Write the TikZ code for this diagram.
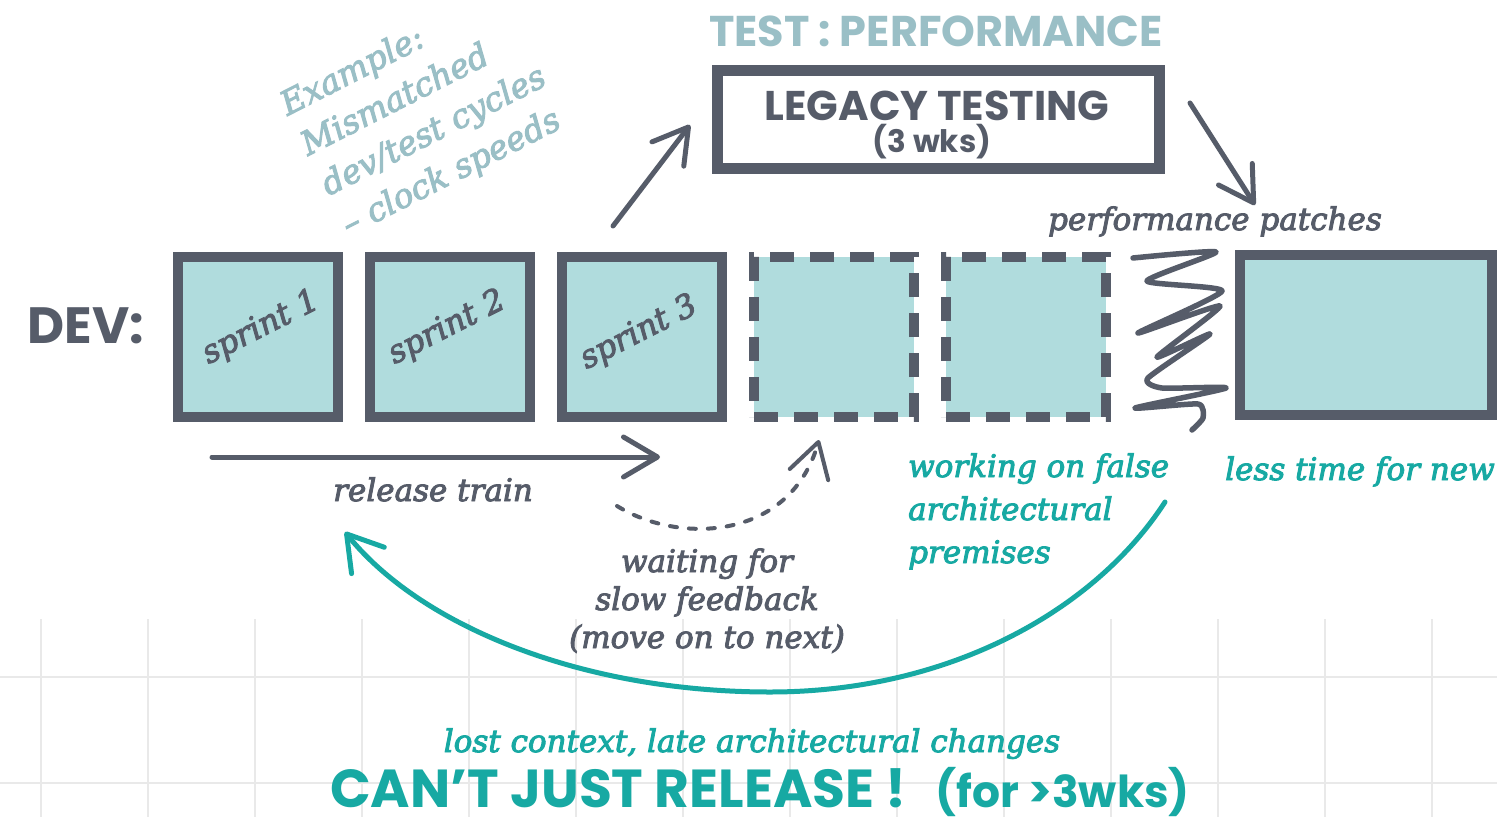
\documentclass[tikz,border=0pt]{standalone}
\usepackage{fontspec}
\setmainfont{DejaVu Serif}[ItalicFeatures={FakeBold=3}]
\setsansfont{Poppins}
\usetikzlibrary{arrows.meta}
\definecolor{slate}{HTML}{565C69}
\definecolor{aqua}{HTML}{B0DCDD}
\definecolor{tealish}{HTML}{17A9A3}
\definecolor{haze}{HTML}{9ABFC6}
\definecolor{gridgray}{HTML}{E9E9E9}
\begin{document}
\begin{tikzpicture}[x=1pt, y=-1pt,
  box/.style={draw=slate, fill=aqua, line width=10pt, minimum width=160pt, minimum height=160pt, inner sep=0pt},
  dashbox/.style={box, dash pattern=on 24pt off 16pt},
  hand/.style={font=\fontsize{31}{38}\selectfont\itshape, text=slate, inner sep=0pt},
  note/.style={hand, text=tealish},
  sprint/.style={hand, font=\fontsize{32}{36}\selectfont\itshape, rotate=27},
  head/.style={inner sep=0pt, anchor=base},
  gridline/.style={gridgray, line width=2.5pt},
  arr/.style={slate, line width=5pt, line cap=round, -{Straight Barb[round, length=34pt, width=40pt]}},
  back/.style={tealish, line width=5pt, line cap=round, -{Straight Barb[round, length=34pt, width=42pt]}},
  scribble/.style={slate, line width=5.5pt, line cap=round, line join=round}
]
\useasboundingbox[fill=white] (0,0) rectangle (1497,817);

\foreach \gx in {41,148,...,1432} \draw[gridline] (\gx,619) -- (\gx,817);
\foreach \gy in {677,783} \draw[gridline] (0,\gy) -- (1497,\gy);

\node[rotate=27, align=left, inner sep=0pt, text=haze, font=\fontsize{33}{45}\selectfont\itshape] (ex) at (424,112) {Example:\\Mismatched\\dev/test cycles\\\textendash{} clock speeds};

\node[head, text=haze, font=\fontsize{43}{43}\selectfont\sffamily\bfseries] (perf) at (936,46) {TEST : PERFORMANCE};
\node[draw=slate, line width=11pt, minimum width=442pt, minimum height=98pt] (leg) at (938.5,119.5) {};
\node[head, text=slate, font=\fontsize{41.5}{41.5}\selectfont\sffamily\bfseries] (legt) at (937,120) {LEGACY TESTING};
\node[head, text=slate, font=\fontsize{31}{31}\selectfont\sffamily\bfseries] (wks) at (932,152) {(3 wks)};

\node[head, text=slate, font=\fontsize{51}{51}\selectfont\sffamily\bfseries] (dev) at (86,343) {DEV:};

\node[box] (s1) at (258,337) {};
\node[box] (s2) at (450,337) {};
\node[box] (s3) at (642,337) {};
\node[dashbox] (d1) at (834,337) {};
\node[dashbox] (d2) at (1026,337) {};
\node[box, minimum width=252pt] (nw) at (1366,335) {};

\node[sprint] (s1t) at (261,328) {sprint 1};
\node[sprint] (s2t) at (447,328) {sprint 2};
\node[sprint] (s3t) at (639,333) {sprint 3};

\coordinate (up0) at (613,226);
\coordinate (up1) at (690,125);
\draw[arr] (up0) -- (up1);
\coordinate (dn0) at (1190,103);
\coordinate (dn1) at (1255,205);
\draw[arr] (dn0) -- (dn1);

\node[hand, anchor=base] (patch) at (1215,230) {performance patches};
\draw[scribble] plot[smooth, tension=0.35] coordinates {(1133,258) (1216,252) (1147,281) (1222,291) (1138,333) (1220,306) (1157,357) (1210,334) (1148,378) (1162,388) (1226,388) (1135,408) (1198,404) (1203,418) (1192,430)};

\coordinate (rt0) at (212,457);
\coordinate (rt1) at (660,457);
\draw[arr] (rt0) -- (rt1);
\node[hand, anchor=base west] (rtt) at (333,501) {release train};

\coordinate (w0) at (617,506);
\coordinate (w1) at (819,440);
\draw[arr, line width=4pt, dash pattern=on 7pt off 12pt] (w0) .. controls (680,545) and (790,540) .. (w1);
\node[hand, align=center, anchor=base] (wait) at (707,648) {waiting for\\slow feedback\\(move on to next)};

\node[note, align=left, anchor=base west, font=\fontsize{31}{43}\selectfont\itshape] (false) at (908,563) {working on false\\architectural\\premises};
\node[note, anchor=base west] (less) at (1225,480) {less time for new};

\coordinate (fb0) at (1165,502);
\coordinate (fb1) at (345,532);
\draw[back] (fb0) .. controls (1095,610) and (950,692) .. (770,692) .. controls (580,692) and (420,625) .. (fb1);

\node[note, anchor=base] (lost) at (752,752) {lost context, late architectural changes};
\node[head, anchor=base west, text=tealish, font=\fontsize{53.5}{53.5}\selectfont\sffamily\bfseries] (cant) at (330,807) {CAN’T JUST RELEASE !};
\node[head, anchor=base east, text=tealish, font=\fontsize{44}{44}\selectfont\sffamily\bfseries] (wks3) at (1190,807) {(for >3wks)};
\end{tikzpicture}
\end{document}
